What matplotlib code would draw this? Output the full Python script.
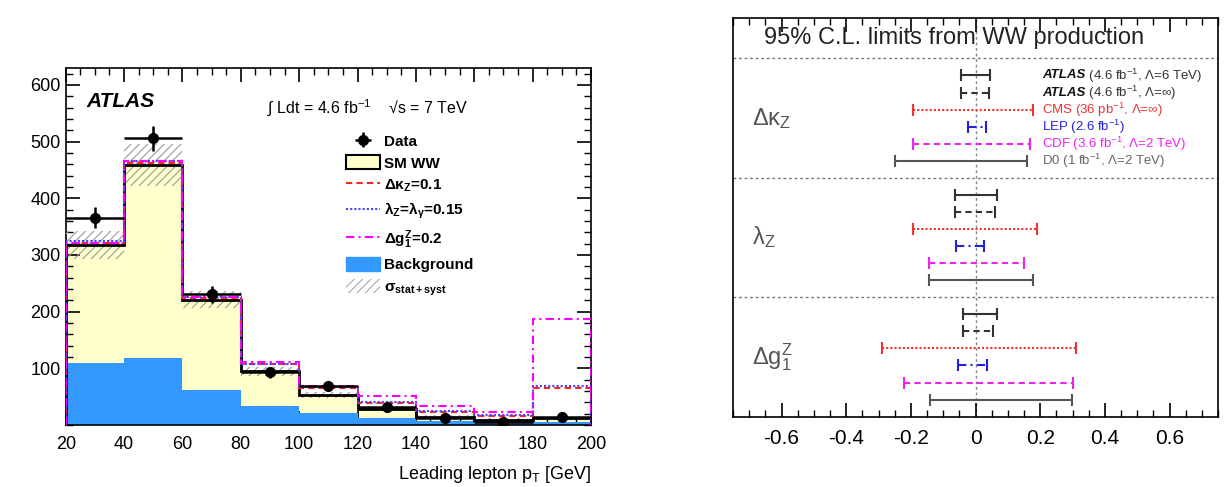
import numpy as np
import matplotlib
matplotlib.use('Agg')
import matplotlib.pyplot as plt
from matplotlib.patches import Patch
from matplotlib.lines import Line2D
from matplotlib.ticker import MultipleLocator, FixedLocator, FixedFormatter

plt.rcParams['font.family'] = ['Liberation Sans', 'DejaVu Sans']
plt.rcParams['mathtext.fontset'] = 'custom'
plt.rcParams['mathtext.rm'] = 'Liberation Sans'
plt.rcParams['mathtext.it'] = 'Liberation Sans:italic'
plt.rcParams['mathtext.bf'] = 'Liberation Sans:bold'
plt.rcParams['mathtext.default'] = 'regular'
plt.rcParams['hatch.linewidth'] = 0.8

# ---- left panel : leading lepton pT ----
edges = [20, 40, 60, 80, 100, 120, 140, 160, 180, 200]
background = [110, 119, 62, 34, 21, 12, 7, 5, 5]
sm_total = [318, 458, 221, 95, 53, 28, 15, 8, 12]
sm_err = [25, 37, 15, 8, 6, 4, 3, 2, 3]
data_y = [366, 506, 231, 93, 68, 32, 13, 5, 14]
data_err = [19, 22, 15, 10, 8, 6, 4, 3, 4]
dkz = [322, 462, 224, 107, 66, 39, 23, 16, 66]
lamz = [325, 466, 226, 108, 67, 40, 24, 17, 69]
dg1z = [322, 465, 225, 112, 68, 52, 33, 23, 187]

# ---- right panel : 95% CL limits ----
exp_labels = [('ATLAS', ' (4.6 fb$^{-1}$, Λ=6 TeV)'),
              ('ATLAS', ' (4.6 fb$^{-1}$, Λ=∞)'),
              ('', 'CMS (36 pb$^{-1}$, Λ=∞)'),
              ('', 'LEP (2.6 fb$^{-1}$)'),
              ('', 'CDF (3.6 fb$^{-1}$, Λ=2 TeV)'),
              ('', 'D0 (1 fb$^{-1}$, Λ=2 TeV)')]
exp_colors = ['#333333', '#333333', '#ee3333', '#2222dd', '#ee22ee', '#555555']
exp_styles = ['-', (0, (3, 2)), (0, (1, 1)), (0, (4, 2, 1, 2)), (0, (3, 2)), '-']
exp_textcol = ['#111111', '#111111', '#ee3333', '#2222dd', '#ee22ee', '#666666']
params = [r'$\Delta\kappa_{Z}$', r'$\lambda_{Z}$', r'$\Delta g_{1}^{Z}$']
lo_dkz = [-0.046, -0.046, -0.194, -0.022, -0.194, -0.249]
hi_dkz = [0.045, 0.043, 0.179, 0.031, 0.169, 0.160]
lo_lam = [-0.063, -0.063, -0.192, -0.061, -0.143, -0.143]
hi_lam = [0.066, 0.059, 0.191, 0.026, 0.150, 0.178]
lo_dg1 = [-0.038, -0.040, -0.290, -0.053, -0.221, -0.141]
hi_dg1 = [0.066, 0.054, 0.311, 0.035, 0.300, 0.298]

fig = plt.figure(figsize=(12.24, 4.87), dpi=100)
ax1 = fig.add_axes([0.0537, 0.1273, 0.4291, 0.7331])
ax2 = fig.add_axes([0.5989, 0.1444, 0.3962, 0.8180])

yellow = '#ffffcc'
blue = '#3399ff'
tot = np.array(sm_total)
err = np.array(sm_err)
ax1.stairs(sm_total, edges, baseline=0, fill=True, color=yellow, zorder=1)
ax1.stairs(background, edges, baseline=0, fill=True, color=blue, zorder=2)
ax1.stairs(tot + err, edges, baseline=tot - err, fill=True, facecolor='none',
           edgecolor='#999999', hatch='////', linewidth=0, zorder=3)
ax1.stairs(sm_total, edges, color='black', linewidth=2, zorder=4)
ax1.stairs(dkz, edges, color='#ff2222', linestyle=(0, (3, 2)), linewidth=1.5, zorder=5)
ax1.stairs(lamz, edges, color='#4444ff', linestyle=(0, (1, 1)), linewidth=1.5, zorder=5)
ax1.stairs(dg1z, edges, color='#ff00ff', linestyle=(0, (4, 2, 1, 2)), linewidth=1.5, zorder=5)
centres = 0.5 * (np.array(edges[:-1]) + np.array(edges[1:]))
eb = ax1.errorbar(centres, data_y, xerr=10, yerr=data_err, fmt='o', color='black',
                  ms=7, elinewidth=1.8, capsize=0, zorder=6)

ax1.set_xlim(20, 200)
ax1.set_ylim(0, 630)
ax1.xaxis.set_major_locator(MultipleLocator(20))
ax1.xaxis.set_minor_locator(MultipleLocator(5))
ax1.yaxis.set_minor_locator(MultipleLocator(20))
ax1.set_yticks([100, 200, 300, 400, 500, 600])
ax1.tick_params(which='both', direction='in', top=True, right=True, labelsize=13)
ax1.tick_params(which='major', length=10, width=1.2)
ax1.tick_params(which='minor', length=5, width=1)
ax1.tick_params(axis='x', pad=8)
for s in ax1.spines.values():
    s.set_linewidth(1.2)
ax1.set_xlabel('Leading lepton p$_{\\rm T}$ [GeV]', loc='right', fontsize=13, labelpad=8)

ax1.text(0.04, 0.905, 'ATLAS', transform=ax1.transAxes, fontsize=15,
         fontweight='bold', fontstyle='italic', va='center')
ax1.text(0.383, 0.89, '∫ Ldt = 4.6 fb$^{-1}$    √s = 7 TeV', transform=ax1.transAxes,
         fontsize=11.5, va='center')

handles = [eb,
           Patch(facecolor=yellow, edgecolor='black', linewidth=1.5),
           Line2D([], [], color='#ff2222', linestyle=(0, (3, 2)), lw=1.5),
           Line2D([], [], color='#4444ff', linestyle=(0, (1, 1)), lw=1.5),
           Line2D([], [], color='#ff00ff', linestyle=(0, (4, 2, 1, 2)), lw=1.5),
           Patch(facecolor=blue, edgecolor=blue),
           Patch(facecolor='white', edgecolor='#aaaaaa', hatch='////', linewidth=0)]
labels = ['Data', 'SM WW', r'$\Delta\kappa_{Z}$=0.1', r'$\lambda_{Z}$=$\lambda_{\gamma}$=0.15',
          r'$\Delta g_{1}^{Z}$=0.2', 'Background', r'$\sigma_{stat+syst}$']
leg = ax1.legend(handles, labels, loc='upper left', bbox_to_anchor=(0.508, 0.855),
                 frameon=False, prop={'weight': 'bold', 'size': 11},
                 handlelength=2.2, handleheight=1.0, labelspacing=0.45, handletextpad=0.3)

# ---- right panel drawing ----
lows = [lo_dkz, lo_lam, lo_dg1]
highs = [hi_dkz, hi_lam, hi_dg1]
ax2.axvline(0, color='#888888', linestyle=(0, (2, 2)), linewidth=1, zorder=1)
for b in [0, 7, 14]:
    ax2.axhline(b, color='#777777', linestyle=(0, (2, 2)), linewidth=1, zorder=1)
for s in range(3):
    ax2.text(-0.69, 7 * s + 3.5, params[s], fontsize=17, color='#555555', va='center')
    for r in range(6):
        y = 7 * s + r + 1
        ax2.hlines(y, lows[s][r], highs[s][r], color=exp_colors[r],
                   linestyles=[exp_styles[r]], linewidth=1.5, zorder=3)
        ax2.plot([lows[s][r], highs[s][r]], [y, y], linestyle='none', marker='|',
                 ms=8, mew=1.5, color=exp_colors[r], zorder=3)
for r in range(6):
    bold, rest = exp_labels[r]
    if bold:
        t = ax2.text(0.205, r + 1, bold, fontsize=9.5, fontweight='bold',
                     fontstyle='italic', color=exp_textcol[r], va='center')
        ax2.annotate(rest, xy=(1, 0.5), xycoords=t, va='center', fontsize=9.5,
                     color='#333333')
    else:
        ax2.text(0.205, r + 1, rest, fontsize=9.5, color=exp_textcol[r], va='center')

ax2.text(-0.655, -1.2, '95% C.L. limits from WW production', fontsize=17,
         color='#222222', va='center')
ax2.set_xlim(-0.75, 0.75)
ax2.set_ylim(21, -2.35)
ax2.set_yticks([])
ticks = [-0.6, -0.4, -0.2, 0, 0.2, 0.4, 0.6]
ax2.xaxis.set_major_locator(FixedLocator(ticks))
ax2.xaxis.set_major_formatter(FixedFormatter(['-0.6', '-0.4', '-0.2', '0', '0.2', '0.4', '0.6']))
ax2.xaxis.set_minor_locator(MultipleLocator(0.05))
ax2.tick_params(which='both', direction='in', top=True, labelsize=15, pad=9)
ax2.tick_params(which='major', length=10, width=1.2)
ax2.tick_params(which='minor', length=5, width=1)
for s in ax2.spines.values():
    s.set_linewidth(1.2)

fig.savefig('out.png', dpi=100)
